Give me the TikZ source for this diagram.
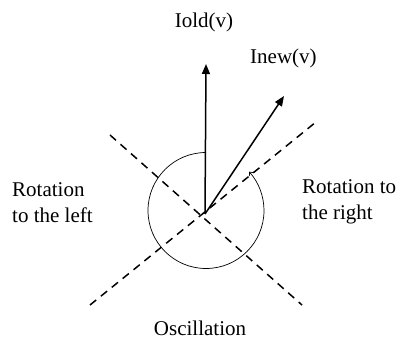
\documentclass[tikz,border=0pt]{standalone}
\usepackage{fontspec}
\setmainfont{Liberation Serif}
\usetikzlibrary{arrows.meta}
\begin{document}
\begin{tikzpicture}[x=1pt,y=1pt,
  vec/.style={line width=1.5pt, -{Triangle[length=10pt,width=8pt]}},
  axis/.style={line width=1.5pt, dash pattern=on 8pt off 6pt},
  lbl/.style={font=\fontsize{21}{26}\selectfont, inner sep=0pt, align=left}]
\useasboundingbox (0,0) rectangle (398,342);
\coordinate (o) at (205,128);
\coordinate (oldtip) at (206,278);
\coordinate (newtip) at (284,246);
\coordinate (nw) at (110,207);
\coordinate (se) at (302,37);
\coordinate (sw) at (90,37);
\coordinate (ne) at (316,220);
\coordinate (c) at (206,131.5);

\draw[axis] (nw) -- (se);
\draw[axis] (sw) -- (ne);
\draw[line width=0.7pt, -{Straight Barb[length=3pt,width=5pt]}] ([shift={(90:58)}]c) arc[start angle=90, end angle=402, radius=58];
\draw[vec] (o) -- (oldtip);
\draw[vec] (o) -- (newtip);

\node[lbl] (old) at (204,320) {Iold(v)};
\node[lbl, anchor=west] (new) at (250,284) {Inew(v)};
\node[lbl, anchor=west] (left) at (12,139) {Rotation\\to the left};
\node[lbl, anchor=west] (right) at (302,140) {Rotation to\\the right};
\node[lbl] (osc) at (200,14) {Oscillation};
\end{tikzpicture}
\end{document}
